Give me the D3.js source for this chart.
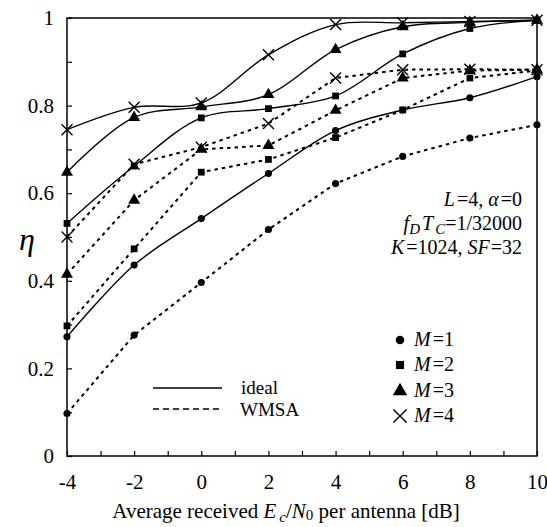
<!DOCTYPE html>
<html>
<head>
<meta charset="utf-8">
<script src="https://cdn.jsdelivr.net/npm/d3@7"></script>
<style>
	body { margin: 0; background: #fff; }
	svg text { font-family: "Liberation Serif", "Times New Roman", "DejaVu Serif", serif; }
	.it { font-style: italic; }
</style>
</head>
<body>
<script>
//data
var snr = [-4, -2, 0, 2, 4, 6, 8, 10];
var idealM1 = [0.272, 0.436, 0.542, 0.645, 0.743, 0.790, 0.818, 0.866];
var idealM2 = [0.531, 0.662, 0.772, 0.793, 0.822, 0.918, 0.976, 0.995];
var idealM3 = [0.648, 0.773, 0.797, 0.825, 0.928, 0.980, 0.990, 0.995];
var idealM4 = [0.745, 0.796, 0.806, 0.916, 0.985, 0.989, 0.992, 0.995];
var wmsaM1 = [0.097, 0.276, 0.396, 0.517, 0.622, 0.684, 0.726, 0.756];
var wmsaM2 = [0.297, 0.473, 0.648, 0.677, 0.727, 0.790, 0.863, 0.880];
var wmsaM3 = [0.415, 0.584, 0.700, 0.709, 0.789, 0.863, 0.880, 0.882];
var wmsaM4 = [0.500, 0.666, 0.705, 0.759, 0.863, 0.882, 0.883, 0.882];
var xTicks = [-4, -3, -2, -1, 0, 1, 2, 3, 4, 5, 6, 7, 8, 9, 10];
var yTicks = [0, 0.1, 0.2, 0.3, 0.4, 0.5, 0.6, 0.7, 0.8, 0.9, 1];
var mLabels = ["1", "2", "3", "4"];

window.onload = drawChart();

function drawChart(){
	var width = 547,
		height = 527,
		left = 67, right = 537, top = 18, bottom = 456;

	var svg = d3.select("body")
		.append("svg")
		.attr("width", width)
		.attr("height", height);

	var x = d3.scaleLinear().domain([-4, 10]).range([left, right]);
	var y = d3.scaleLinear().domain([0, 1]).range([bottom, top]);

	//axes, ticks pointing inside
	var xAxis = d3.axisBottom(x)
		.tickValues(xTicks)
		.tickSizeInner(-5)
		.tickSizeOuter(0)
		.tickPadding(18)
		.tickFormat(function(d){ return d % 2 === 0 ? d : ""; });
	var gx = svg.append("g")
		.attr("transform", "translate(0," + bottom + ")")
		.call(xAxis);

	var yAxis = d3.axisLeft(y)
		.tickValues(yTicks)
		.tickSizeInner(-5)
		.tickSizeOuter(0)
		.tickPadding(13)
		.tickFormat(function(d){
			var k = Math.round(d * 10);
			return k % 2 === 0 ? String(k / 10) : "";
		});
	var gy = svg.append("g")
		.attr("transform", "translate(" + left + ",0)")
		.call(yAxis);

	[gx, gy].forEach(function(g){
		g.attr("font-family", null).attr("font-size", null);
		g.select(".domain").remove();
		g.selectAll("line").attr("stroke", "#000").attr("stroke-width", 1.2);
		g.selectAll("text")
			.style("font-size", "21px")
			.attr("fill", "#000");
	});

	//frame
	svg.append("rect")
		.attr("x", left)
		.attr("y", top)
		.attr("width", right - left)
		.attr("height", bottom - top)
		.attr("fill", "none")
		.attr("stroke", "#000")
		.attr("stroke-width", 1.5);

	var series = [
		{ideal: idealM1, wmsa: wmsaM1, sym: "circle"},
		{ideal: idealM2, wmsa: wmsaM2, sym: "square"},
		{ideal: idealM3, wmsa: wmsaM3, sym: "triangle"},
		{ideal: idealM4, wmsa: wmsaM4, sym: "cross"}
	];

	var smooth = d3.line()
		.x(function(d, i){ return x(snr[i]); })
		.y(function(d){ return y(d); })
		.curve(d3.curveCatmullRom.alpha(0.5));
	var straight = d3.line()
		.x(function(d, i){ return x(snr[i]); })
		.y(function(d){ return y(d); });

	var plot = svg.append("g");

	series.forEach(function(s){
		plot.append("path")
			.attr("d", straight(s.wmsa))
			.attr("fill", "none")
			.attr("stroke", "#000")
			.attr("stroke-width", 2)
			.attr("stroke-dasharray", "3.5,4");
		plot.append("path")
			.attr("d", smooth(s.ideal))
			.attr("fill", "none")
			.attr("stroke", "#000")
			.attr("stroke-width", 1.4);
	});

	series.forEach(function(s){
		s.ideal.concat(s.wmsa).forEach(function(v, i){
			drawMarker(plot, s.sym, x(snr[i % snr.length]), y(v), 1);
		});
	});

	//line style legend
	var leg = svg.append("g");
	leg.append("line")
		.attr("x1", 153).attr("x2", 222)
		.attr("y1", 388).attr("y2", 388)
		.attr("stroke", "#000").attr("stroke-width", 1.4);
	leg.append("line")
		.attr("x1", 153).attr("x2", 222)
		.attr("y1", 409).attr("y2", 409)
		.attr("stroke", "#000").attr("stroke-width", 1.6)
		.attr("stroke-dasharray", "6,4");
	leg.append("text").attr("x", 241).attr("y", 394)
		.style("font-size", "19px").text("ideal");
	leg.append("text").attr("x", 240).attr("y", 416)
		.style("font-size", "19px").text("WMSA");

	//marker legend
	var rows = [340, 365, 391, 416];
	series.forEach(function(s, i){
		drawMarker(leg, s.sym, 400, rows[i], 1.2);
		var t = leg.append("text")
			.attr("x", 414)
			.attr("y", rows[i] + 6)
			.style("font-size", "20px");
		t.append("tspan").attr("class", "it").text("M");
		t.append("tspan").attr("dx", 2).text("=" + mLabels[i]);
	});

	//parameters
	var note = svg.append("g")
		.attr("text-anchor", "end");
	var t1 = note.append("text").attr("x", 522).attr("y", 206).style("font-size", "20px");
	t1.append("tspan").attr("class", "it").text("L");
	t1.append("tspan").attr("dx", 2).text("=4, ");
	t1.append("tspan").attr("class", "it").text("α");
	t1.append("tspan").attr("dx", 2).text("=0");

	var t2 = note.append("text").attr("x", 522).attr("y", 230).style("font-size", "20px");
	t2.append("tspan").attr("class", "it").text("f");
	t2.append("tspan").attr("class", "it").style("font-size", "15px").attr("dy", 4).text("D");
	t2.append("tspan").attr("class", "it").attr("dy", -4).attr("dx", 2).text("T");
	t2.append("tspan").attr("class", "it").style("font-size", "15px").attr("dy", 4).attr("dx", 2).text("C");
	t2.append("tspan").attr("dy", -4).text("=1/32000");

	var t3 = note.append("text").attr("x", 522).attr("y", 254).style("font-size", "20px");
	t3.append("tspan").attr("class", "it").text("K");
	t3.append("tspan").attr("dx", 2).text("=1024, ");
	t3.append("tspan").attr("class", "it").text("SF");
	t3.append("tspan").attr("dx", 1).text("=32");

	//axis titles
	var xt = svg.append("text")
		.attr("x", 286)
		.attr("y", 518)
		.attr("text-anchor", "middle")
		.style("font-size", "21px");
	xt.append("tspan").text("Average received ");
	xt.append("tspan").attr("class", "it").text("E");
	xt.append("tspan").attr("class", "it").style("font-size", "15px").attr("dy", 4).attr("dx", 3).text("c");
	xt.append("tspan").attr("dy", -4).text("/");
	xt.append("tspan").attr("class", "it").text("N");
	xt.append("tspan").style("font-size", "15px").attr("dy", 2).text("0");
	xt.append("tspan").attr("dy", -2).text(" per antenna [dB]");

	svg.append("text")
		.attr("x", 27)
		.attr("y", 250)
		.attr("text-anchor", "middle")
		.attr("class", "it")
		.style("font-size", "32px")
		.text("η");
}

//draw one marker of the given shape
function drawMarker(g, sym, cx, cy, k){
	if (sym === "cross"){
		var h = 5.5 * k;
		g.append("path")
			.attr("d", "M" + (cx - h) + "," + (cy - h) + "L" + (cx + h) + "," + (cy + h) +
				"M" + (cx - h) + "," + (cy + h) + "L" + (cx + h) + "," + (cy - h))
			.attr("stroke", "#000")
			.attr("stroke-width", 1.4)
			.attr("fill", "none");
		return;
	}
	var type = {circle: d3.symbolCircle, square: d3.symbolSquare, triangle: d3.symbolTriangle}[sym];
	var size = {circle: 40, square: 46, triangle: 62}[sym] * k * k;
	g.append("path")
		.attr("d", d3.symbol().type(type).size(size)())
		.attr("transform", "translate(" + cx + "," + cy + ")")
		.attr("fill", "#000");
}
</script>
</body>
</html>
